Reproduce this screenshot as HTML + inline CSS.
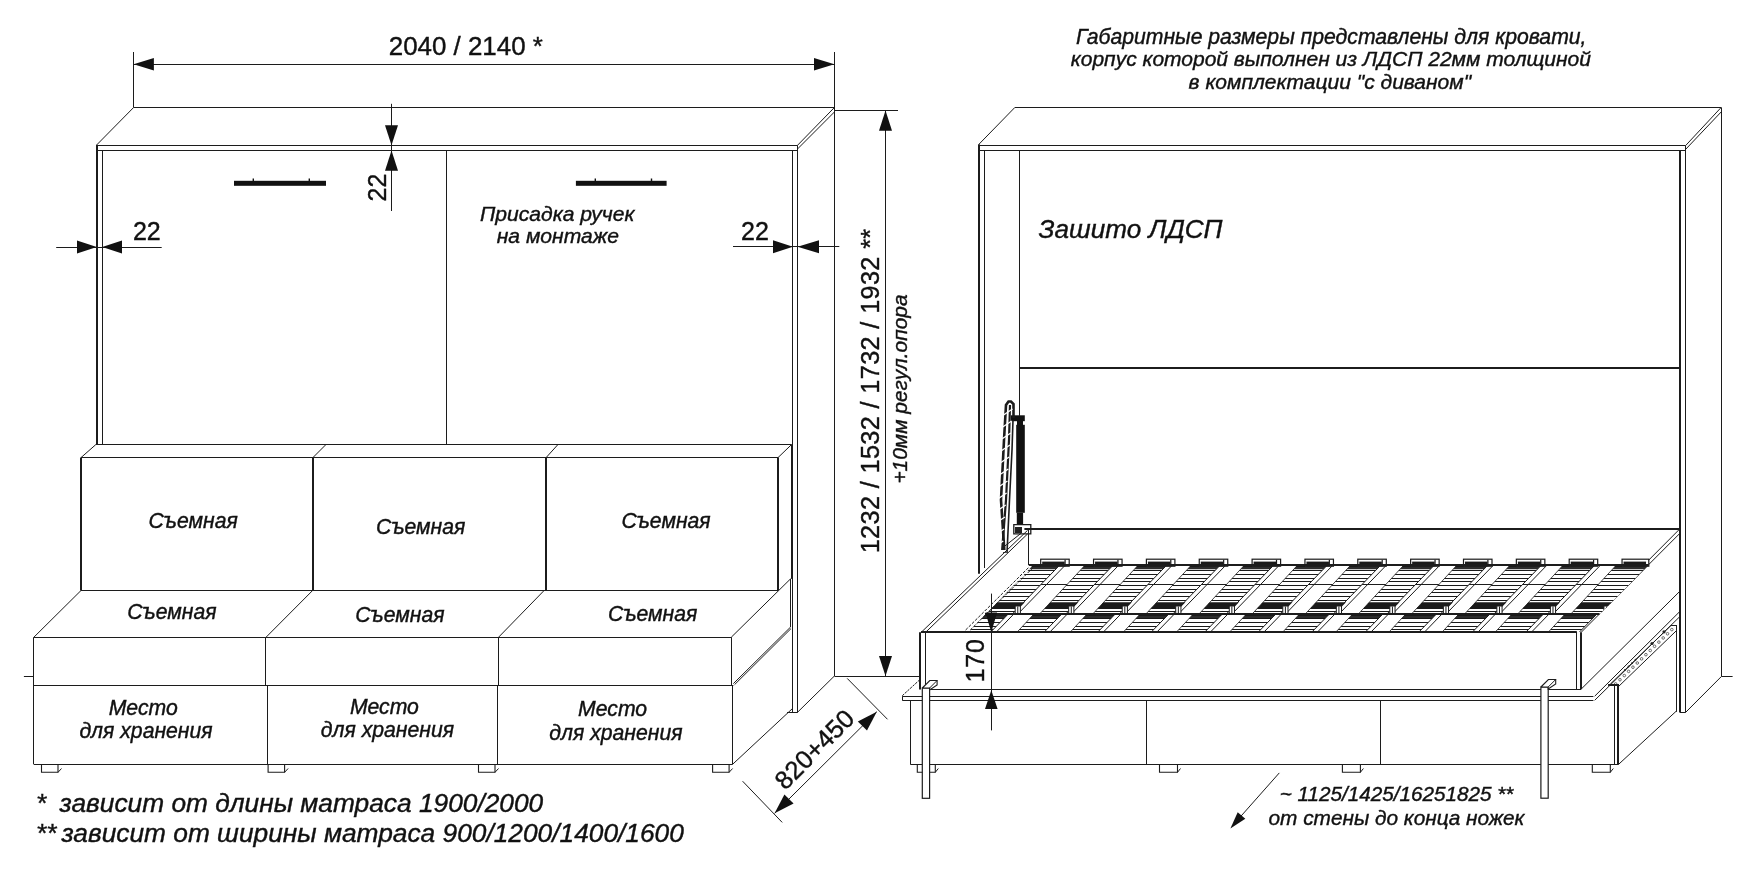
<!DOCTYPE html>
<html><head><meta charset="utf-8"><style>
html,body{margin:0;padding:0;background:#fff;}
svg{display:block;}
text{font-family:"Liberation Sans", sans-serif; fill:#111; stroke:#111; stroke-width:0.4px;}
svg{will-change:transform;}
</style></head><body>
<svg width="1755" height="885" viewBox="0 0 1755 885">
<rect width="1755" height="885" fill="#fff"/>
<line x1="133.50" y1="52.00" x2="133.50" y2="107.50" stroke="#1c1c1c" stroke-width="1" />
<line x1="834.50" y1="52.00" x2="834.50" y2="676.00" stroke="#1c1c1c" stroke-width="1" />
<line x1="133.60" y1="64.50" x2="834.40" y2="64.50" stroke="#1c1c1c" stroke-width="1" />
<polygon points="133.60,64.30 153.90,70.60 153.90,58.00" fill="#111"/>
<polygon points="834.40,64.30 814.00,58.00 814.00,70.60" fill="#111"/>
<text x="388.80" y="55.20" font-size="25.9" text-anchor="start" >2040 / 2140 *</text>
<line x1="133.60" y1="107.50" x2="834.40" y2="107.50" stroke="#1c1c1c" stroke-width="1" />
<line x1="133.60" y1="107.50" x2="96.80" y2="144.80" stroke="#1c1c1c" stroke-width="1.0" />
<line x1="96.80" y1="145.50" x2="797.50" y2="145.50" stroke="#1c1c1c" stroke-width="1" />
<line x1="96.80" y1="150.50" x2="797.50" y2="150.50" stroke="#1c1c1c" stroke-width="1" />
<line x1="97.00" y1="144.80" x2="97.00" y2="444.60" stroke="#1c1c1c" stroke-width="2" />
<line x1="102.50" y1="150.50" x2="102.50" y2="444.60" stroke="#1c1c1c" stroke-width="1" />
<line x1="834.40" y1="107.50" x2="797.50" y2="145.30" stroke="#1c1c1c" stroke-width="1.0" />
<line x1="834.40" y1="112.00" x2="797.50" y2="149.00" stroke="#1c1c1c" stroke-width="1.0" />
<line x1="792.50" y1="150.50" x2="792.50" y2="712.30" stroke="#1c1c1c" stroke-width="1" />
<line x1="797.50" y1="145.30" x2="797.50" y2="712.30" stroke="#1c1c1c" stroke-width="1" />
<line x1="792.90" y1="712.50" x2="797.50" y2="712.50" stroke="#1c1c1c" stroke-width="1" />
<line x1="797.50" y1="712.30" x2="834.40" y2="676.00" stroke="#1c1c1c" stroke-width="1.0" />
<line x1="834.40" y1="676.50" x2="898.00" y2="676.50" stroke="#1c1c1c" stroke-width="1" />
<line x1="834.40" y1="110.50" x2="898.00" y2="110.50" stroke="#1c1c1c" stroke-width="1" />
<line x1="446.50" y1="150.50" x2="446.50" y2="444.60" stroke="#1c1c1c" stroke-width="1" />
<rect x="234.00" y="180.80" width="92.00" height="5.00" fill="#111"/>
<rect x="252.60" y="178.50" width="1.40" height="3.00" fill="#111"/>
<rect x="308.60" y="178.50" width="1.40" height="3.00" fill="#111"/>
<rect x="575.90" y="180.80" width="90.70" height="5.00" fill="#111"/>
<rect x="594.60" y="178.50" width="1.40" height="3.00" fill="#111"/>
<rect x="650.80" y="178.50" width="1.40" height="3.00" fill="#111"/>
<line x1="391.50" y1="103.80" x2="391.50" y2="211.00" stroke="#1c1c1c" stroke-width="1" />
<polygon points="391.50,145.20 398.00,125.20 385.00,125.20" fill="#111"/>
<polygon points="391.50,150.50 385.00,170.70 398.00,170.70" fill="#111"/>
<line x1="383.00" y1="145.50" x2="404.00" y2="145.50" stroke="#1c1c1c" stroke-width="1" />
<line x1="383.00" y1="150.50" x2="404.00" y2="150.50" stroke="#1c1c1c" stroke-width="1" />
<text x="385.50" y="201.50" font-size="25" text-anchor="start" transform="rotate(-90 385.50 201.50)" >22</text>
<line x1="56.20" y1="247.50" x2="161.70" y2="247.50" stroke="#1c1c1c" stroke-width="1" />
<polygon points="96.80,247.10 77.00,240.60 77.00,253.60" fill="#111"/>
<polygon points="102.20,247.10 122.00,253.60 122.00,240.60" fill="#111"/>
<text x="132.90" y="239.60" font-size="25" text-anchor="start" >22</text>
<line x1="733.00" y1="246.50" x2="839.30" y2="246.50" stroke="#1c1c1c" stroke-width="1" />
<polygon points="792.90,246.70 773.00,240.20 773.00,253.20" fill="#111"/>
<polygon points="797.50,246.70 819.00,253.20 819.00,240.20" fill="#111"/>
<text x="741.00" y="239.50" font-size="25" text-anchor="start" >22</text>
<text x="480.00" y="220.90" font-size="21.1" font-style="italic" text-anchor="start" >Присадка ручек</text>
<text x="496.70" y="243.00" font-size="21.1" font-style="italic" text-anchor="start" >на монтаже</text>
<line x1="95.80" y1="444.50" x2="791.50" y2="444.50" stroke="#1c1c1c" stroke-width="1" />
<line x1="81.00" y1="457.50" x2="778.00" y2="457.50" stroke="#1c1c1c" stroke-width="1" />
<line x1="95.80" y1="444.60" x2="81.00" y2="457.60" stroke="#1c1c1c" stroke-width="1.0" />
<line x1="81.00" y1="457.60" x2="81.00" y2="590.50" stroke="#1c1c1c" stroke-width="2" />
<line x1="313.00" y1="457.60" x2="313.00" y2="590.50" stroke="#1c1c1c" stroke-width="2" />
<line x1="312.90" y1="457.60" x2="325.90" y2="444.60" stroke="#1c1c1c" stroke-width="1.0" />
<line x1="546.00" y1="457.60" x2="546.00" y2="590.50" stroke="#1c1c1c" stroke-width="2" />
<line x1="546.10" y1="457.60" x2="557.90" y2="444.60" stroke="#1c1c1c" stroke-width="1.0" />
<line x1="778.00" y1="457.60" x2="778.00" y2="590.50" stroke="#1c1c1c" stroke-width="2" />
<line x1="778.00" y1="457.60" x2="791.50" y2="444.60" stroke="#1c1c1c" stroke-width="1.0" />
<line x1="791.50" y1="444.60" x2="791.50" y2="578.90" stroke="#1c1c1c" stroke-width="1" />
<line x1="81.00" y1="590.50" x2="778.00" y2="590.50" stroke="#1c1c1c" stroke-width="1" />
<line x1="33.90" y1="637.50" x2="731.30" y2="637.50" stroke="#1c1c1c" stroke-width="1" />
<line x1="81.00" y1="590.50" x2="33.90" y2="637.20" stroke="#1c1c1c" stroke-width="1.0" />
<line x1="312.60" y1="590.50" x2="266.10" y2="637.20" stroke="#1c1c1c" stroke-width="1.0" />
<line x1="544.10" y1="590.50" x2="498.60" y2="637.20" stroke="#1c1c1c" stroke-width="1.0" />
<line x1="731.30" y1="637.20" x2="790.50" y2="578.90" stroke="#1c1c1c" stroke-width="1.0" />
<line x1="790.50" y1="578.90" x2="790.50" y2="627.00" stroke="#1c1c1c" stroke-width="1" />
<line x1="733.40" y1="683.60" x2="790.50" y2="627.10" stroke="#1c1c1c" stroke-width="1.0" />
<line x1="734.60" y1="684.60" x2="791.00" y2="628.60" stroke="#1c1c1c" stroke-width="1.0" />
<line x1="33.90" y1="685.50" x2="733.40" y2="685.50" stroke="#1c1c1c" stroke-width="1" />
<line x1="33.50" y1="637.20" x2="33.50" y2="764.30" stroke="#1c1c1c" stroke-width="1" />
<line x1="265.50" y1="637.20" x2="265.50" y2="685.10" stroke="#1c1c1c" stroke-width="1" />
<line x1="498.50" y1="637.20" x2="498.50" y2="685.10" stroke="#1c1c1c" stroke-width="1" />
<line x1="731.50" y1="637.20" x2="731.50" y2="685.10" stroke="#1c1c1c" stroke-width="1" />
<line x1="267.50" y1="685.10" x2="267.50" y2="764.30" stroke="#1c1c1c" stroke-width="1" />
<line x1="497.50" y1="685.10" x2="497.50" y2="764.30" stroke="#1c1c1c" stroke-width="1" />
<line x1="732.50" y1="685.10" x2="732.50" y2="764.30" stroke="#1c1c1c" stroke-width="1" />
<line x1="33.90" y1="764.50" x2="732.60" y2="764.50" stroke="#1c1c1c" stroke-width="1" />
<line x1="732.60" y1="764.30" x2="792.50" y2="708.50" stroke="#1c1c1c" stroke-width="1.0" />
<line x1="787.00" y1="712.50" x2="797.50" y2="712.50" stroke="#1c1c1c" stroke-width="1" />
<line x1="23.90" y1="676.50" x2="33.90" y2="676.50" stroke="#1c1c1c" stroke-width="1" />
<polyline points="41.50,764.30 41.50,772.30 58.00,772.30 58.00,764.30" stroke="#1c1c1c" stroke-width="1.1" fill="none"/>
<line x1="58.00" y1="772.30" x2="61.50" y2="768.50" stroke="#1c1c1c" stroke-width="1.0" />
<polyline points="268.10,764.30 268.10,772.30 284.60,772.30 284.60,764.30" stroke="#1c1c1c" stroke-width="1.1" fill="none"/>
<line x1="284.60" y1="772.30" x2="288.10" y2="768.50" stroke="#1c1c1c" stroke-width="1.0" />
<polyline points="478.50,764.30 478.50,772.30 495.00,772.30 495.00,764.30" stroke="#1c1c1c" stroke-width="1.1" fill="none"/>
<line x1="495.00" y1="772.30" x2="498.50" y2="768.50" stroke="#1c1c1c" stroke-width="1.0" />
<polyline points="712.60,764.30 712.60,772.30 729.10,772.30 729.10,764.30" stroke="#1c1c1c" stroke-width="1.1" fill="none"/>
<line x1="729.10" y1="772.30" x2="732.60" y2="768.50" stroke="#1c1c1c" stroke-width="1.0" />
<line x1="885.50" y1="110.00" x2="885.50" y2="676.00" stroke="#1c1c1c" stroke-width="1" />
<polygon points="885.50,110.50 879.00,130.70 892.00,130.70" fill="#111"/>
<polygon points="885.50,676.00 892.00,656.00 879.00,656.00" fill="#111"/>
<text x="878.60" y="553.30" font-size="25.25" text-anchor="start" transform="rotate(-90 878.60 553.30)" textLength="324.5" lengthAdjust="spacing">1232 / 1532 / 1732 / 1932 **</text>
<text x="906.80" y="483.60" font-size="20.9" font-style="italic" text-anchor="start" transform="rotate(-90 906.80 483.60)" >+10мм регул.опора</text>
<line x1="742.60" y1="781.20" x2="782.20" y2="822.40" stroke="#1c1c1c" stroke-width="1.0" />
<line x1="847.20" y1="678.40" x2="887.50" y2="719.30" stroke="#1c1c1c" stroke-width="1.0" />
<line x1="774.60" y1="813.30" x2="876.80" y2="711.70" stroke="#1c1c1c" stroke-width="1.0" />
<polygon points="774.60,813.30 793.58,803.61 784.42,794.39" fill="#111"/>
<polygon points="876.80,711.70 857.82,721.39 866.98,730.61" fill="#111"/>
<text x="814.30" y="749.20" font-size="25.5" text-anchor="middle" transform="rotate(-45 814.30 749.20)" dominant-baseline="central">820+450</text>
<text x="36.00" y="811.80" font-size="26.3" font-style="italic" text-anchor="start" >*</text>
<text x="59.50" y="811.80" font-size="26.3" font-style="italic" text-anchor="start" >зависит от длины матраса 1900/2000</text>
<text x="36.00" y="842.00" font-size="26.3" font-style="italic" text-anchor="start" >**</text>
<text x="61.40" y="842.00" font-size="26.3" font-style="italic" text-anchor="start" >зависит от ширины матраса 900/1200/1400/1600</text>
<text x="148.50" y="527.80" font-size="21.2" font-style="italic" text-anchor="start" >Съемная</text>
<text x="376.10" y="534.00" font-size="21.2" font-style="italic" text-anchor="start" >Съемная</text>
<text x="621.40" y="527.80" font-size="21.2" font-style="italic" text-anchor="start" >Съемная</text>
<text x="127.20" y="619.30" font-size="21.2" font-style="italic" text-anchor="start" >Съемная</text>
<text x="355.20" y="621.50" font-size="21.2" font-style="italic" text-anchor="start" >Съемная</text>
<text x="608.10" y="620.50" font-size="21.2" font-style="italic" text-anchor="start" >Съемная</text>
<text x="108.70" y="715.00" font-size="21.2" font-style="italic" text-anchor="start" >Место</text>
<text x="79.40" y="738.00" font-size="21.2" font-style="italic" text-anchor="start" >для хранения</text>
<text x="349.90" y="713.90" font-size="21.2" font-style="italic" text-anchor="start" >Место</text>
<text x="320.80" y="737.00" font-size="21.2" font-style="italic" text-anchor="start" >для хранения</text>
<text x="578.10" y="716.30" font-size="21.2" font-style="italic" text-anchor="start" >Место</text>
<text x="549.30" y="740.00" font-size="21.2" font-style="italic" text-anchor="start" >для хранения</text>
<text x="1075.90" y="44.20" font-size="21.2" font-style="italic" text-anchor="start" >Габаритные размеры представлены для кровати,</text>
<text x="1070.80" y="65.80" font-size="21" font-style="italic" text-anchor="start" >корпус которой выполнен из ЛДСП 22мм толщиной</text>
<text x="1188.60" y="88.80" font-size="21" font-style="italic" text-anchor="start" >в комплектации &quot;с диваном&quot;</text>
<line x1="1014.80" y1="107.50" x2="1721.10" y2="107.50" stroke="#1c1c1c" stroke-width="1" />
<line x1="1014.80" y1="107.50" x2="979.00" y2="144.20" stroke="#1c1c1c" stroke-width="1.0" />
<line x1="979.00" y1="145.50" x2="1685.50" y2="145.50" stroke="#1c1c1c" stroke-width="1" />
<line x1="979.00" y1="150.50" x2="1685.50" y2="150.50" stroke="#1c1c1c" stroke-width="1" />
<line x1="979.00" y1="144.20" x2="979.00" y2="573.80" stroke="#1c1c1c" stroke-width="2" />
<line x1="984.50" y1="150.20" x2="984.50" y2="568.00" stroke="#1c1c1c" stroke-width="1" />
<line x1="1721.10" y1="107.50" x2="1685.50" y2="145.70" stroke="#1c1c1c" stroke-width="1.0" />
<line x1="1721.10" y1="112.00" x2="1685.50" y2="149.50" stroke="#1c1c1c" stroke-width="1.0" />
<line x1="1680.00" y1="150.20" x2="1680.00" y2="712.50" stroke="#1c1c1c" stroke-width="2" />
<line x1="1685.50" y1="145.70" x2="1685.50" y2="712.50" stroke="#1c1c1c" stroke-width="1" />
<line x1="1680.00" y1="712.50" x2="1685.50" y2="712.50" stroke="#1c1c1c" stroke-width="1" />
<line x1="1685.50" y1="712.50" x2="1721.40" y2="676.50" stroke="#1c1c1c" stroke-width="1.0" />
<line x1="1721.50" y1="107.50" x2="1721.50" y2="676.50" stroke="#1c1c1c" stroke-width="1" />
<line x1="1721.40" y1="676.50" x2="1732.60" y2="676.50" stroke="#1c1c1c" stroke-width="1" />
<line x1="1019.50" y1="150.20" x2="1019.50" y2="415.80" stroke="#1c1c1c" stroke-width="1" />
<line x1="1019.60" y1="368.00" x2="1680.00" y2="368.00" stroke="#1c1c1c" stroke-width="2" />
<text x="1038.60" y="237.90" font-size="26.1" font-style="italic" text-anchor="start" >Зашито ЛДСП</text>
<rect x="1016.20" y="424.80" width="8.60" height="88.00" fill="#111"/>
<rect x="1010.80" y="415.30" width="14.00" height="5.90" fill="#111"/>
<rect x="1017.00" y="421.00" width="6.00" height="4.00" fill="#111"/>
<rect x="1016.80" y="512.70" width="6.30" height="12.00" fill="#111"/>
<polygon points="1013.80,524.60 1030.80,524.60 1030.80,533.90 1013.80,533.90" stroke="#1c1c1c" stroke-width="1.3" fill="#fff"/>
<rect x="1015.00" y="527.00" width="7.00" height="6.00" fill="#222"/>
<polyline points="1004.50,553.00 1001.00,500.00 1004.00,440.00 1006.00,405.00 1008.50,401.50 1011.00,401.50 1013.50,404.00 1013.50,418.00" stroke="#1c1c1c" stroke-width="2.6" fill="none"/>
<polyline points="1002.00,552.00 1006.00,500.00 1009.00,440.00 1010.00,405.00" stroke="#1c1c1c" stroke-width="2.2" fill="none"/>
<polyline points="1007.00,553.00 1009.50,500.00 1012.00,450.00 1013.00,420.00" stroke="#1c1c1c" stroke-width="1.6" fill="none"/>
<line x1="1003.50" y1="415.00" x2="1012.50" y2="409.00" stroke="#fff" stroke-width="1.3"/>
<line x1="1002.66" y1="427.00" x2="1011.66" y2="421.00" stroke="#fff" stroke-width="1.3"/>
<line x1="1001.82" y1="439.00" x2="1010.82" y2="433.00" stroke="#fff" stroke-width="1.3"/>
<line x1="1000.98" y1="451.00" x2="1009.98" y2="445.00" stroke="#fff" stroke-width="1.3"/>
<line x1="1000.14" y1="463.00" x2="1009.14" y2="457.00" stroke="#fff" stroke-width="1.3"/>
<line x1="999.30" y1="475.00" x2="1008.30" y2="469.00" stroke="#fff" stroke-width="1.3"/>
<line x1="998.46" y1="487.00" x2="1007.46" y2="481.00" stroke="#fff" stroke-width="1.3"/>
<line x1="997.62" y1="499.00" x2="1006.62" y2="493.00" stroke="#fff" stroke-width="1.3"/>
<line x1="996.78" y1="511.00" x2="1005.78" y2="505.00" stroke="#fff" stroke-width="1.3"/>
<line x1="995.94" y1="523.00" x2="1004.94" y2="517.00" stroke="#fff" stroke-width="1.3"/>
<line x1="995.10" y1="535.00" x2="1004.10" y2="529.00" stroke="#fff" stroke-width="1.3"/>
<line x1="994.26" y1="547.00" x2="1003.26" y2="541.00" stroke="#fff" stroke-width="1.3"/>
<line x1="1002.00" y1="548.30" x2="1021.40" y2="533.00" stroke="#1c1c1c" stroke-width="1.0" />
<line x1="999.50" y1="551.00" x2="1006.00" y2="551.00" stroke="#fff" stroke-width="2" />
<line x1="1024.40" y1="529.00" x2="1679.20" y2="529.00" stroke="#1c1c1c" stroke-width="2" />
<line x1="1028.50" y1="529.30" x2="1028.50" y2="565.00" stroke="#1c1c1c" stroke-width="1" />
<line x1="1027.50" y1="530.40" x2="921.00" y2="632.50" stroke="#1c1c1c" stroke-width="1.0" />
<line x1="1027.50" y1="534.00" x2="925.40" y2="632.50" stroke="#1c1c1c" stroke-width="1.0" />
<line x1="1679.20" y1="529.50" x2="1576.80" y2="632.30" stroke="#1c1c1c" stroke-width="1.0" />
<line x1="1679.20" y1="534.00" x2="1581.20" y2="632.30" stroke="#1c1c1c" stroke-width="1.0" />
<line x1="921.00" y1="632.00" x2="1576.80" y2="632.00" stroke="#1c1c1c" stroke-width="2" />
<line x1="920.00" y1="632.30" x2="920.00" y2="689.40" stroke="#1c1c1c" stroke-width="2" />
<line x1="925.50" y1="632.30" x2="925.50" y2="689.40" stroke="#1c1c1c" stroke-width="1" />
<line x1="1576.50" y1="632.30" x2="1576.50" y2="689.10" stroke="#1c1c1c" stroke-width="1" />
<line x1="1581.00" y1="632.30" x2="1581.00" y2="689.10" stroke="#1c1c1c" stroke-width="2" />
<line x1="1581.20" y1="689.10" x2="1679.40" y2="591.70" stroke="#1c1c1c" stroke-width="1.0" />
<line x1="925.30" y1="689.50" x2="1581.20" y2="689.50" stroke="#1c1c1c" stroke-width="1" />
<line x1="902.30" y1="696.50" x2="1593.40" y2="696.50" stroke="#1c1c1c" stroke-width="1" />
<line x1="902.30" y1="700.50" x2="1593.40" y2="700.50" stroke="#1c1c1c" stroke-width="1" />
<line x1="902.50" y1="696.40" x2="902.50" y2="700.40" stroke="#1c1c1c" stroke-width="1" />
<line x1="902.30" y1="695.70" x2="919.80" y2="679.70" stroke="#1c1c1c" stroke-width="1.0" stroke-dasharray="2.5,1"/>
<line x1="1594.70" y1="696.20" x2="1679.30" y2="612.00" stroke="#1c1c1c" stroke-width="1.0" />
<line x1="1594.70" y1="700.30" x2="1679.30" y2="617.10" stroke="#1c1c1c" stroke-width="1.0" />
<line x1="1610.20" y1="684.20" x2="1671.20" y2="625.30" stroke="#1c1c1c" stroke-width="1.0" />
<line x1="1617.50" y1="687.50" x2="1676.90" y2="630.20" stroke="#1c1c1c" stroke-width="1.0" />
<circle cx="1615.66" cy="683.91" r="1.3" fill="none" stroke="#333" stroke-width="0.7"/>
<circle cx="1619.98" cy="679.73" r="1.3" fill="none" stroke="#333" stroke-width="0.7"/>
<circle cx="1624.30" cy="675.55" r="1.3" fill="none" stroke="#333" stroke-width="0.7"/>
<circle cx="1628.62" cy="671.38" r="1.3" fill="none" stroke="#333" stroke-width="0.7"/>
<circle cx="1632.95" cy="667.20" r="1.3" fill="none" stroke="#333" stroke-width="0.7"/>
<circle cx="1637.27" cy="663.02" r="1.3" fill="none" stroke="#333" stroke-width="0.7"/>
<circle cx="1641.59" cy="658.84" r="1.3" fill="none" stroke="#333" stroke-width="0.7"/>
<circle cx="1645.91" cy="654.66" r="1.3" fill="none" stroke="#333" stroke-width="0.7"/>
<circle cx="1650.23" cy="650.48" r="1.3" fill="none" stroke="#333" stroke-width="0.7"/>
<circle cx="1654.55" cy="646.30" r="1.3" fill="none" stroke="#333" stroke-width="0.7"/>
<circle cx="1658.88" cy="642.12" r="1.3" fill="none" stroke="#333" stroke-width="0.7"/>
<circle cx="1663.20" cy="637.95" r="1.3" fill="none" stroke="#333" stroke-width="0.7"/>
<circle cx="1667.52" cy="633.77" r="1.3" fill="none" stroke="#333" stroke-width="0.7"/>
<circle cx="1671.84" cy="629.59" r="1.3" fill="none" stroke="#333" stroke-width="0.7"/>
<circle cx="1652" cy="643.5" r="1.6" fill="#222"/><circle cx="1664" cy="631.8" r="1.6" fill="#222"/>
<circle cx="1625.00" cy="669.90" r="0.9" fill="#222"/>
<circle cx="1628.50" cy="666.52" r="0.9" fill="#222"/>
<circle cx="1632.00" cy="663.15" r="0.9" fill="#222"/>
<circle cx="1635.50" cy="659.77" r="0.9" fill="#222"/>
<line x1="895.00" y1="676.50" x2="919.80" y2="676.50" stroke="#1c1c1c" stroke-width="1" />
<line x1="910.50" y1="700.40" x2="910.50" y2="764.60" stroke="#1c1c1c" stroke-width="1" />
<line x1="910.50" y1="764.50" x2="1618.30" y2="764.50" stroke="#1c1c1c" stroke-width="1" />
<line x1="1146.50" y1="700.40" x2="1146.50" y2="764.60" stroke="#1c1c1c" stroke-width="1" />
<line x1="1380.50" y1="700.40" x2="1380.50" y2="764.60" stroke="#1c1c1c" stroke-width="1" />
<line x1="1614.50" y1="684.00" x2="1614.50" y2="764.60" stroke="#1c1c1c" stroke-width="1" />
<line x1="1618.00" y1="684.00" x2="1618.00" y2="764.60" stroke="#1c1c1c" stroke-width="2" />
<line x1="1608.10" y1="685.00" x2="1618.30" y2="685.00" stroke="#1c1c1c" stroke-width="2" />
<line x1="1618.30" y1="764.60" x2="1676.20" y2="711.20" stroke="#1c1c1c" stroke-width="1.0" />
<line x1="1676.50" y1="625.20" x2="1676.50" y2="711.90" stroke="#1c1c1c" stroke-width="1" />
<line x1="1671.00" y1="625.50" x2="1676.90" y2="625.50" stroke="#1c1c1c" stroke-width="1" />
<polyline points="917.30,764.60 917.30,772.30 935.30,772.30 935.30,764.60" stroke="#1c1c1c" stroke-width="1.1" fill="none"/>
<line x1="935.30" y1="772.30" x2="938.30" y2="768.50" stroke="#1c1c1c" stroke-width="1.0" />
<polyline points="1159.50,764.60 1159.50,772.30 1177.50,772.30 1177.50,764.60" stroke="#1c1c1c" stroke-width="1.1" fill="none"/>
<line x1="1177.50" y1="772.30" x2="1180.50" y2="768.50" stroke="#1c1c1c" stroke-width="1.0" />
<polyline points="1342.40,764.60 1342.40,772.30 1360.40,772.30 1360.40,764.60" stroke="#1c1c1c" stroke-width="1.1" fill="none"/>
<line x1="1360.40" y1="772.30" x2="1363.40" y2="768.50" stroke="#1c1c1c" stroke-width="1.0" />
<polyline points="1592.30,764.60 1592.30,772.30 1610.30,772.30 1610.30,764.60" stroke="#1c1c1c" stroke-width="1.1" fill="none"/>
<line x1="1610.30" y1="772.30" x2="1613.30" y2="768.50" stroke="#1c1c1c" stroke-width="1.0" />
<rect x="922.30" y="688.00" width="7.3" height="110.30" fill="#fff" stroke="#1c1c1c" stroke-width="1.2"/>
<polyline points="922.30,688.00 929.80,680.50 937.10,680.50 937.10,685.00 929.60,690.00 929.60,688.00 922.30,688.00" stroke="#1c1c1c" stroke-width="1.1" fill="#fff"/>
<line x1="929.60" y1="688.00" x2="937.10" y2="680.50" stroke="#1c1c1c" stroke-width="1.0" />
<rect x="1540.90" y="687.00" width="7.3" height="111.20" fill="#fff" stroke="#1c1c1c" stroke-width="1.2"/>
<polyline points="1540.90,687.00 1548.40,679.50 1555.70,679.50 1555.70,684.00 1548.20,689.00 1548.20,687.00 1540.90,687.00" stroke="#1c1c1c" stroke-width="1.1" fill="#fff"/>
<line x1="1548.20" y1="687.00" x2="1555.70" y2="679.50" stroke="#1c1c1c" stroke-width="1.0" />
<text x="983.70" y="682.50" font-size="25" text-anchor="start" transform="rotate(-90 983.70 682.50)" textLength="43.5" lengthAdjust="spacing">170</text>
<line x1="1279.30" y1="772.90" x2="1238.00" y2="819.50" stroke="#1c1c1c" stroke-width="1.0" />
<polygon points="1230.40,828.50 1245.30,818.75 1237.70,812.25" fill="#111"/>
<text x="1279.70" y="801.10" font-size="20.7" font-style="italic" text-anchor="start" >~ 1125/1425/16251825 **</text>
<text x="1268.50" y="825.10" font-size="20.8" font-style="italic" text-anchor="start" >от стены до конца ножек</text>
<defs><pattern id="stripes" patternUnits="userSpaceOnUse" width="10" height="3.75" y="0.6"><rect width="10" height="3.75" fill="#fff"/><rect y="0" width="10" height="1.25" fill="#1a1a1a"/></pattern><clipPath id="slatclip"><polygon points="968.3,632.3 1033,565.3 1648.7,565.3 1581.7,632.3"/></clipPath></defs>
<line x1="1028.80" y1="584.50" x2="1629.40" y2="584.50" stroke="#1c1c1c" stroke-width="1" />
<clipPath id="stripeclip"><polygon points="925.37,565.5 952.29,565.5 904.28,615 879.34,615"/><polygon points="926.77,615 953.75,615 937.26,632 910.96,632"/><polygon points="978.49,565.5 1005.81,565.5 957.80,615 932.46,615"/><polygon points="979.89,615 1007.27,615 990.78,632 964.08,632"/><polygon points="1031.62,565.5 1059.34,565.5 1011.32,615 985.58,615"/><polygon points="1033.01,615 1060.79,615 1044.30,632 1017.20,632"/><polygon points="1084.74,565.5 1112.86,565.5 1064.84,615 1038.70,615"/><polygon points="1086.13,615 1114.31,615 1097.82,632 1070.32,632"/><polygon points="1137.86,565.5 1166.38,565.5 1118.36,615 1091.82,615"/><polygon points="1139.25,615 1167.83,615 1151.34,632 1123.44,632"/><polygon points="1190.98,565.5 1219.90,565.5 1171.88,615 1144.94,615"/><polygon points="1192.37,615 1221.35,615 1204.86,632 1176.56,632"/><polygon points="1244.10,565.5 1273.42,565.5 1225.41,615 1198.07,615"/><polygon points="1245.50,615 1274.88,615 1258.39,632 1229.69,632"/><polygon points="1297.22,565.5 1326.94,565.5 1278.93,615 1251.19,615"/><polygon points="1298.62,615 1328.40,615 1311.91,632 1282.81,632"/><polygon points="1350.34,565.5 1380.46,565.5 1332.45,615 1304.31,615"/><polygon points="1351.74,615 1381.92,615 1365.43,632 1335.93,632"/><polygon points="1403.46,565.5 1433.98,565.5 1385.97,615 1357.43,615"/><polygon points="1404.86,615 1435.44,615 1418.95,632 1389.05,632"/><polygon points="1456.59,565.5 1487.51,565.5 1439.49,615 1410.55,615"/><polygon points="1457.98,615 1488.96,615 1472.47,632 1442.17,632"/><polygon points="1509.71,565.5 1541.03,565.5 1493.01,615 1463.67,615"/><polygon points="1511.10,615 1542.48,615 1525.99,632 1495.29,632"/><polygon points="1562.83,565.5 1594.55,565.5 1546.53,615 1516.79,615"/><polygon points="1564.22,615 1596.00,615 1579.51,632 1548.41,632"/><polygon points="1615.95,565.5 1648.07,565.5 1600.05,615 1569.92,615"/><polygon points="1617.35,615 1649.52,615 1633.03,632 1601.54,632"/><polygon points="1669.07,565.5 1701.59,565.5 1653.58,615 1623.04,615"/><polygon points="1670.47,615 1703.05,615 1686.56,632 1654.66,632"/></clipPath>
<g clip-path="url(#slatclip)"><polygon points="925.37,565.5 952.29,565.5 904.28,615 879.34,615" fill="#fff"/><polygon points="926.77,615 953.75,615 937.26,632 910.96,632" fill="#fff"/><polygon points="978.49,565.5 1005.81,565.5 957.80,615 932.46,615" fill="#fff"/><polygon points="979.89,615 1007.27,615 990.78,632 964.08,632" fill="#fff"/><polygon points="1031.62,565.5 1059.34,565.5 1011.32,615 985.58,615" fill="#fff"/><polygon points="1033.01,615 1060.79,615 1044.30,632 1017.20,632" fill="#fff"/><polygon points="1084.74,565.5 1112.86,565.5 1064.84,615 1038.70,615" fill="#fff"/><polygon points="1086.13,615 1114.31,615 1097.82,632 1070.32,632" fill="#fff"/><polygon points="1137.86,565.5 1166.38,565.5 1118.36,615 1091.82,615" fill="#fff"/><polygon points="1139.25,615 1167.83,615 1151.34,632 1123.44,632" fill="#fff"/><polygon points="1190.98,565.5 1219.90,565.5 1171.88,615 1144.94,615" fill="#fff"/><polygon points="1192.37,615 1221.35,615 1204.86,632 1176.56,632" fill="#fff"/><polygon points="1244.10,565.5 1273.42,565.5 1225.41,615 1198.07,615" fill="#fff"/><polygon points="1245.50,615 1274.88,615 1258.39,632 1229.69,632" fill="#fff"/><polygon points="1297.22,565.5 1326.94,565.5 1278.93,615 1251.19,615" fill="#fff"/><polygon points="1298.62,615 1328.40,615 1311.91,632 1282.81,632" fill="#fff"/><polygon points="1350.34,565.5 1380.46,565.5 1332.45,615 1304.31,615" fill="#fff"/><polygon points="1351.74,615 1381.92,615 1365.43,632 1335.93,632" fill="#fff"/><polygon points="1403.46,565.5 1433.98,565.5 1385.97,615 1357.43,615" fill="#fff"/><polygon points="1404.86,615 1435.44,615 1418.95,632 1389.05,632" fill="#fff"/><polygon points="1456.59,565.5 1487.51,565.5 1439.49,615 1410.55,615" fill="#fff"/><polygon points="1457.98,615 1488.96,615 1472.47,632 1442.17,632" fill="#fff"/><polygon points="1509.71,565.5 1541.03,565.5 1493.01,615 1463.67,615" fill="#fff"/><polygon points="1511.10,615 1542.48,615 1525.99,632 1495.29,632" fill="#fff"/><polygon points="1562.83,565.5 1594.55,565.5 1546.53,615 1516.79,615" fill="#fff"/><polygon points="1564.22,615 1596.00,615 1579.51,632 1548.41,632" fill="#fff"/><polygon points="1615.95,565.5 1648.07,565.5 1600.05,615 1569.92,615" fill="#fff"/><polygon points="1617.35,615 1649.52,615 1633.03,632 1601.54,632" fill="#fff"/><polygon points="1669.07,565.5 1701.59,565.5 1653.58,615 1623.04,615" fill="#fff"/><polygon points="1670.47,615 1703.05,615 1686.56,632 1654.66,632" fill="#fff"/><g clip-path="url(#stripeclip)" shape-rendering="crispEdges"><rect x="960" y="566" width="700" height="1" fill="#1a1a1a"/><rect x="960" y="570" width="700" height="1" fill="#1a1a1a"/><rect x="960" y="574" width="700" height="1" fill="#1a1a1a"/><rect x="960" y="578" width="700" height="1" fill="#1a1a1a"/><rect x="960" y="581" width="700" height="1" fill="#1a1a1a"/><rect x="960" y="585" width="700" height="1" fill="#1a1a1a"/><rect x="960" y="589" width="700" height="1" fill="#1a1a1a"/><rect x="960" y="592" width="700" height="1" fill="#1a1a1a"/><rect x="960" y="596" width="700" height="1" fill="#1a1a1a"/><rect x="960" y="600" width="700" height="1" fill="#1a1a1a"/><rect x="960" y="603" width="700" height="1" fill="#1a1a1a"/><rect x="960" y="607" width="700" height="1" fill="#1a1a1a"/><rect x="960" y="611" width="700" height="1" fill="#1a1a1a"/><rect x="960" y="615" width="700" height="1" fill="#1a1a1a"/><rect x="960" y="618" width="700" height="1" fill="#1a1a1a"/><rect x="960" y="622" width="700" height="1" fill="#1a1a1a"/><rect x="960" y="626" width="700" height="1" fill="#1a1a1a"/><rect x="960" y="629" width="700" height="1" fill="#1a1a1a"/><rect x="960" y="633" width="700" height="1" fill="#1a1a1a"/></g><line x1="925.37" y1="565.5" x2="879.34" y2="615" stroke="#1a1a1a" stroke-width="0.8"/><line x1="952.29" y1="565.5" x2="904.28" y2="615" stroke="#1a1a1a" stroke-width="1.0"/><line x1="957.89" y1="565.5" x2="909.88" y2="615" stroke="#1a1a1a" stroke-width="1.0"/><polygon points="925.37,565.5 952.29,565.5 948.61,569.3 921.84,569.3" fill="#1a1a1a" opacity="0.92"/><line x1="926.77" y1="615" x2="910.96" y2="632" stroke="#1a1a1a" stroke-width="0.8"/><line x1="953.75" y1="615" x2="937.26" y2="632" stroke="#1a1a1a" stroke-width="1.0"/><line x1="959.35" y1="615" x2="942.86" y2="632" stroke="#1a1a1a" stroke-width="1.0"/><polygon points="926.77,615 953.75,615 950.06,618.8 923.23,618.8" fill="#1a1a1a" opacity="0.92"/><polygon points="891.15,602.3 917.80,602.3 911.30,609 884.92,609" fill="#1a1a1a"/><rect x="908.13" y="606" width="5.2" height="8.5" fill="#fff" stroke="#1a1a1a" stroke-width="1.0"/><rect x="910.23" y="606.5" width="1" height="7.5" fill="#1a1a1a"/><line x1="978.49" y1="565.5" x2="932.46" y2="615" stroke="#1a1a1a" stroke-width="0.8"/><line x1="1005.81" y1="565.5" x2="957.80" y2="615" stroke="#1a1a1a" stroke-width="1.0"/><line x1="1011.41" y1="565.5" x2="963.40" y2="615" stroke="#1a1a1a" stroke-width="1.0"/><polygon points="978.49,565.5 1005.81,565.5 1002.13,569.3 974.96,569.3" fill="#1a1a1a" opacity="0.92"/><line x1="979.89" y1="615" x2="964.08" y2="632" stroke="#1a1a1a" stroke-width="0.8"/><line x1="1007.27" y1="615" x2="990.78" y2="632" stroke="#1a1a1a" stroke-width="1.0"/><line x1="1012.87" y1="615" x2="996.38" y2="632" stroke="#1a1a1a" stroke-width="1.0"/><polygon points="979.89,615 1007.27,615 1003.58,618.8 976.35,618.8" fill="#1a1a1a" opacity="0.92"/><polygon points="944.27,602.3 971.32,602.3 964.82,609 938.04,609" fill="#1a1a1a"/><rect x="961.65" y="606" width="5.2" height="8.5" fill="#fff" stroke="#1a1a1a" stroke-width="1.0"/><rect x="963.75" y="606.5" width="1" height="7.5" fill="#1a1a1a"/><line x1="1031.62" y1="565.5" x2="985.58" y2="615" stroke="#1a1a1a" stroke-width="0.8"/><line x1="1059.34" y1="565.5" x2="1011.32" y2="615" stroke="#1a1a1a" stroke-width="1.0"/><line x1="1064.93" y1="565.5" x2="1016.92" y2="615" stroke="#1a1a1a" stroke-width="1.0"/><polygon points="1031.62,565.5 1059.34,565.5 1055.65,569.3 1028.08,569.3" fill="#1a1a1a" opacity="0.92"/><line x1="1033.01" y1="615" x2="1017.20" y2="632" stroke="#1a1a1a" stroke-width="0.8"/><line x1="1060.79" y1="615" x2="1044.30" y2="632" stroke="#1a1a1a" stroke-width="1.0"/><line x1="1066.39" y1="615" x2="1049.90" y2="632" stroke="#1a1a1a" stroke-width="1.0"/><polygon points="1033.01,615 1060.79,615 1057.10,618.8 1029.48,618.8" fill="#1a1a1a" opacity="0.92"/><polygon points="997.39,602.3 1024.84,602.3 1018.34,609 991.16,609" fill="#1a1a1a"/><rect x="1015.17" y="606" width="5.2" height="8.5" fill="#fff" stroke="#1a1a1a" stroke-width="1.0"/><rect x="1017.27" y="606.5" width="1" height="7.5" fill="#1a1a1a"/><line x1="1084.74" y1="565.5" x2="1038.70" y2="615" stroke="#1a1a1a" stroke-width="0.8"/><line x1="1112.86" y1="565.5" x2="1064.84" y2="615" stroke="#1a1a1a" stroke-width="1.0"/><line x1="1118.46" y1="565.5" x2="1070.44" y2="615" stroke="#1a1a1a" stroke-width="1.0"/><polygon points="1084.74,565.5 1112.86,565.5 1109.17,569.3 1081.20,569.3" fill="#1a1a1a" opacity="0.92"/><line x1="1086.13" y1="615" x2="1070.32" y2="632" stroke="#1a1a1a" stroke-width="0.8"/><line x1="1114.31" y1="615" x2="1097.82" y2="632" stroke="#1a1a1a" stroke-width="1.0"/><line x1="1119.91" y1="615" x2="1103.42" y2="632" stroke="#1a1a1a" stroke-width="1.0"/><polygon points="1086.13,615 1114.31,615 1110.63,618.8 1082.60,618.8" fill="#1a1a1a" opacity="0.92"/><polygon points="1050.51,602.3 1078.36,602.3 1071.86,609 1044.28,609" fill="#1a1a1a"/><rect x="1068.69" y="606" width="5.2" height="8.5" fill="#fff" stroke="#1a1a1a" stroke-width="1.0"/><rect x="1070.79" y="606.5" width="1" height="7.5" fill="#1a1a1a"/><line x1="1137.86" y1="565.5" x2="1091.82" y2="615" stroke="#1a1a1a" stroke-width="0.8"/><line x1="1166.38" y1="565.5" x2="1118.36" y2="615" stroke="#1a1a1a" stroke-width="1.0"/><line x1="1171.98" y1="565.5" x2="1123.96" y2="615" stroke="#1a1a1a" stroke-width="1.0"/><polygon points="1137.86,565.5 1166.38,565.5 1162.69,569.3 1134.32,569.3" fill="#1a1a1a" opacity="0.92"/><line x1="1139.25" y1="615" x2="1123.44" y2="632" stroke="#1a1a1a" stroke-width="0.8"/><line x1="1167.83" y1="615" x2="1151.34" y2="632" stroke="#1a1a1a" stroke-width="1.0"/><line x1="1173.43" y1="615" x2="1156.94" y2="632" stroke="#1a1a1a" stroke-width="1.0"/><polygon points="1139.25,615 1167.83,615 1164.15,618.8 1135.72,618.8" fill="#1a1a1a" opacity="0.92"/><polygon points="1103.63,602.3 1131.88,602.3 1125.38,609 1097.40,609" fill="#1a1a1a"/><rect x="1122.21" y="606" width="5.2" height="8.5" fill="#fff" stroke="#1a1a1a" stroke-width="1.0"/><rect x="1124.31" y="606.5" width="1" height="7.5" fill="#1a1a1a"/><line x1="1190.98" y1="565.5" x2="1144.94" y2="615" stroke="#1a1a1a" stroke-width="0.8"/><line x1="1219.90" y1="565.5" x2="1171.88" y2="615" stroke="#1a1a1a" stroke-width="1.0"/><line x1="1225.50" y1="565.5" x2="1177.48" y2="615" stroke="#1a1a1a" stroke-width="1.0"/><polygon points="1190.98,565.5 1219.90,565.5 1216.21,569.3 1187.45,569.3" fill="#1a1a1a" opacity="0.92"/><line x1="1192.37" y1="615" x2="1176.56" y2="632" stroke="#1a1a1a" stroke-width="0.8"/><line x1="1221.35" y1="615" x2="1204.86" y2="632" stroke="#1a1a1a" stroke-width="1.0"/><line x1="1226.95" y1="615" x2="1210.46" y2="632" stroke="#1a1a1a" stroke-width="1.0"/><polygon points="1192.37,615 1221.35,615 1217.67,618.8 1188.84,618.8" fill="#1a1a1a" opacity="0.92"/><polygon points="1156.76,602.3 1185.40,602.3 1178.90,609 1150.52,609" fill="#1a1a1a"/><rect x="1175.73" y="606" width="5.2" height="8.5" fill="#fff" stroke="#1a1a1a" stroke-width="1.0"/><rect x="1177.83" y="606.5" width="1" height="7.5" fill="#1a1a1a"/><line x1="1244.10" y1="565.5" x2="1198.07" y2="615" stroke="#1a1a1a" stroke-width="0.8"/><line x1="1273.42" y1="565.5" x2="1225.41" y2="615" stroke="#1a1a1a" stroke-width="1.0"/><line x1="1279.02" y1="565.5" x2="1231.01" y2="615" stroke="#1a1a1a" stroke-width="1.0"/><polygon points="1244.10,565.5 1273.42,565.5 1269.73,569.3 1240.57,569.3" fill="#1a1a1a" opacity="0.92"/><line x1="1245.50" y1="615" x2="1229.69" y2="632" stroke="#1a1a1a" stroke-width="0.8"/><line x1="1274.88" y1="615" x2="1258.39" y2="632" stroke="#1a1a1a" stroke-width="1.0"/><line x1="1280.48" y1="615" x2="1263.99" y2="632" stroke="#1a1a1a" stroke-width="1.0"/><polygon points="1245.50,615 1274.88,615 1271.19,618.8 1241.96,618.8" fill="#1a1a1a" opacity="0.92"/><polygon points="1209.88,602.3 1238.92,602.3 1232.43,609 1203.65,609" fill="#1a1a1a"/><rect x="1229.26" y="606" width="5.2" height="8.5" fill="#fff" stroke="#1a1a1a" stroke-width="1.0"/><rect x="1231.36" y="606.5" width="1" height="7.5" fill="#1a1a1a"/><line x1="1297.22" y1="565.5" x2="1251.19" y2="615" stroke="#1a1a1a" stroke-width="0.8"/><line x1="1326.94" y1="565.5" x2="1278.93" y2="615" stroke="#1a1a1a" stroke-width="1.0"/><line x1="1332.54" y1="565.5" x2="1284.53" y2="615" stroke="#1a1a1a" stroke-width="1.0"/><polygon points="1297.22,565.5 1326.94,565.5 1323.26,569.3 1293.69,569.3" fill="#1a1a1a" opacity="0.92"/><line x1="1298.62" y1="615" x2="1282.81" y2="632" stroke="#1a1a1a" stroke-width="0.8"/><line x1="1328.40" y1="615" x2="1311.91" y2="632" stroke="#1a1a1a" stroke-width="1.0"/><line x1="1334.00" y1="615" x2="1317.51" y2="632" stroke="#1a1a1a" stroke-width="1.0"/><polygon points="1298.62,615 1328.40,615 1324.71,618.8 1295.08,618.8" fill="#1a1a1a" opacity="0.92"/><polygon points="1263.00,602.3 1292.45,602.3 1285.95,609 1256.77,609" fill="#1a1a1a"/><rect x="1282.78" y="606" width="5.2" height="8.5" fill="#fff" stroke="#1a1a1a" stroke-width="1.0"/><rect x="1284.88" y="606.5" width="1" height="7.5" fill="#1a1a1a"/><line x1="1350.34" y1="565.5" x2="1304.31" y2="615" stroke="#1a1a1a" stroke-width="0.8"/><line x1="1380.46" y1="565.5" x2="1332.45" y2="615" stroke="#1a1a1a" stroke-width="1.0"/><line x1="1386.06" y1="565.5" x2="1338.05" y2="615" stroke="#1a1a1a" stroke-width="1.0"/><polygon points="1350.34,565.5 1380.46,565.5 1376.78,569.3 1346.81,569.3" fill="#1a1a1a" opacity="0.92"/><line x1="1351.74" y1="615" x2="1335.93" y2="632" stroke="#1a1a1a" stroke-width="0.8"/><line x1="1381.92" y1="615" x2="1365.43" y2="632" stroke="#1a1a1a" stroke-width="1.0"/><line x1="1387.52" y1="615" x2="1371.03" y2="632" stroke="#1a1a1a" stroke-width="1.0"/><polygon points="1351.74,615 1381.92,615 1378.23,618.8 1348.20,618.8" fill="#1a1a1a" opacity="0.92"/><polygon points="1316.12,602.3 1345.97,602.3 1339.47,609 1309.89,609" fill="#1a1a1a"/><rect x="1336.30" y="606" width="5.2" height="8.5" fill="#fff" stroke="#1a1a1a" stroke-width="1.0"/><rect x="1338.40" y="606.5" width="1" height="7.5" fill="#1a1a1a"/><line x1="1403.46" y1="565.5" x2="1357.43" y2="615" stroke="#1a1a1a" stroke-width="0.8"/><line x1="1433.98" y1="565.5" x2="1385.97" y2="615" stroke="#1a1a1a" stroke-width="1.0"/><line x1="1439.58" y1="565.5" x2="1391.57" y2="615" stroke="#1a1a1a" stroke-width="1.0"/><polygon points="1403.46,565.5 1433.98,565.5 1430.30,569.3 1399.93,569.3" fill="#1a1a1a" opacity="0.92"/><line x1="1404.86" y1="615" x2="1389.05" y2="632" stroke="#1a1a1a" stroke-width="0.8"/><line x1="1435.44" y1="615" x2="1418.95" y2="632" stroke="#1a1a1a" stroke-width="1.0"/><line x1="1441.04" y1="615" x2="1424.55" y2="632" stroke="#1a1a1a" stroke-width="1.0"/><polygon points="1404.86,615 1435.44,615 1431.75,618.8 1401.33,618.8" fill="#1a1a1a" opacity="0.92"/><polygon points="1369.24,602.3 1399.49,602.3 1392.99,609 1363.01,609" fill="#1a1a1a"/><rect x="1389.82" y="606" width="5.2" height="8.5" fill="#fff" stroke="#1a1a1a" stroke-width="1.0"/><rect x="1391.92" y="606.5" width="1" height="7.5" fill="#1a1a1a"/><line x1="1456.59" y1="565.5" x2="1410.55" y2="615" stroke="#1a1a1a" stroke-width="0.8"/><line x1="1487.51" y1="565.5" x2="1439.49" y2="615" stroke="#1a1a1a" stroke-width="1.0"/><line x1="1493.11" y1="565.5" x2="1445.09" y2="615" stroke="#1a1a1a" stroke-width="1.0"/><polygon points="1456.59,565.5 1487.51,565.5 1483.82,569.3 1453.05,569.3" fill="#1a1a1a" opacity="0.92"/><line x1="1457.98" y1="615" x2="1442.17" y2="632" stroke="#1a1a1a" stroke-width="0.8"/><line x1="1488.96" y1="615" x2="1472.47" y2="632" stroke="#1a1a1a" stroke-width="1.0"/><line x1="1494.56" y1="615" x2="1478.07" y2="632" stroke="#1a1a1a" stroke-width="1.0"/><polygon points="1457.98,615 1488.96,615 1485.27,618.8 1454.45,618.8" fill="#1a1a1a" opacity="0.92"/><polygon points="1422.36,602.3 1453.01,602.3 1446.51,609 1416.13,609" fill="#1a1a1a"/><rect x="1443.34" y="606" width="5.2" height="8.5" fill="#fff" stroke="#1a1a1a" stroke-width="1.0"/><rect x="1445.44" y="606.5" width="1" height="7.5" fill="#1a1a1a"/><line x1="1509.71" y1="565.5" x2="1463.67" y2="615" stroke="#1a1a1a" stroke-width="0.8"/><line x1="1541.03" y1="565.5" x2="1493.01" y2="615" stroke="#1a1a1a" stroke-width="1.0"/><line x1="1546.63" y1="565.5" x2="1498.61" y2="615" stroke="#1a1a1a" stroke-width="1.0"/><polygon points="1509.71,565.5 1541.03,565.5 1537.34,569.3 1506.17,569.3" fill="#1a1a1a" opacity="0.92"/><line x1="1511.10" y1="615" x2="1495.29" y2="632" stroke="#1a1a1a" stroke-width="0.8"/><line x1="1542.48" y1="615" x2="1525.99" y2="632" stroke="#1a1a1a" stroke-width="1.0"/><line x1="1548.08" y1="615" x2="1531.59" y2="632" stroke="#1a1a1a" stroke-width="1.0"/><polygon points="1511.10,615 1542.48,615 1538.80,618.8 1507.57,618.8" fill="#1a1a1a" opacity="0.92"/><polygon points="1475.48,602.3 1506.53,602.3 1500.03,609 1469.25,609" fill="#1a1a1a"/><rect x="1496.86" y="606" width="5.2" height="8.5" fill="#fff" stroke="#1a1a1a" stroke-width="1.0"/><rect x="1498.96" y="606.5" width="1" height="7.5" fill="#1a1a1a"/><line x1="1562.83" y1="565.5" x2="1516.79" y2="615" stroke="#1a1a1a" stroke-width="0.8"/><line x1="1594.55" y1="565.5" x2="1546.53" y2="615" stroke="#1a1a1a" stroke-width="1.0"/><line x1="1600.15" y1="565.5" x2="1552.13" y2="615" stroke="#1a1a1a" stroke-width="1.0"/><polygon points="1562.83,565.5 1594.55,565.5 1590.86,569.3 1559.29,569.3" fill="#1a1a1a" opacity="0.92"/><line x1="1564.22" y1="615" x2="1548.41" y2="632" stroke="#1a1a1a" stroke-width="0.8"/><line x1="1596.00" y1="615" x2="1579.51" y2="632" stroke="#1a1a1a" stroke-width="1.0"/><line x1="1601.60" y1="615" x2="1585.11" y2="632" stroke="#1a1a1a" stroke-width="1.0"/><polygon points="1564.22,615 1596.00,615 1592.32,618.8 1560.69,618.8" fill="#1a1a1a" opacity="0.92"/><polygon points="1528.60,602.3 1560.05,602.3 1553.55,609 1522.37,609" fill="#1a1a1a"/><rect x="1550.38" y="606" width="5.2" height="8.5" fill="#fff" stroke="#1a1a1a" stroke-width="1.0"/><rect x="1552.48" y="606.5" width="1" height="7.5" fill="#1a1a1a"/><line x1="1615.95" y1="565.5" x2="1569.92" y2="615" stroke="#1a1a1a" stroke-width="0.8"/><line x1="1648.07" y1="565.5" x2="1600.05" y2="615" stroke="#1a1a1a" stroke-width="1.0"/><line x1="1653.67" y1="565.5" x2="1605.65" y2="615" stroke="#1a1a1a" stroke-width="1.0"/><polygon points="1615.95,565.5 1648.07,565.5 1644.38,569.3 1612.42,569.3" fill="#1a1a1a" opacity="0.92"/><line x1="1617.35" y1="615" x2="1601.54" y2="632" stroke="#1a1a1a" stroke-width="0.8"/><line x1="1649.52" y1="615" x2="1633.03" y2="632" stroke="#1a1a1a" stroke-width="1.0"/><line x1="1655.12" y1="615" x2="1638.63" y2="632" stroke="#1a1a1a" stroke-width="1.0"/><polygon points="1617.35,615 1649.52,615 1645.84,618.8 1613.81,618.8" fill="#1a1a1a" opacity="0.92"/><polygon points="1581.73,602.3 1613.57,602.3 1607.07,609 1575.50,609" fill="#1a1a1a"/><rect x="1603.90" y="606" width="5.2" height="8.5" fill="#fff" stroke="#1a1a1a" stroke-width="1.0"/><rect x="1606.00" y="606.5" width="1" height="7.5" fill="#1a1a1a"/><line x1="1669.07" y1="565.5" x2="1623.04" y2="615" stroke="#1a1a1a" stroke-width="0.8"/><line x1="1701.59" y1="565.5" x2="1653.58" y2="615" stroke="#1a1a1a" stroke-width="1.0"/><line x1="1707.19" y1="565.5" x2="1659.18" y2="615" stroke="#1a1a1a" stroke-width="1.0"/><polygon points="1669.07,565.5 1701.59,565.5 1697.91,569.3 1665.54,569.3" fill="#1a1a1a" opacity="0.92"/><line x1="1670.47" y1="615" x2="1654.66" y2="632" stroke="#1a1a1a" stroke-width="0.8"/><line x1="1703.05" y1="615" x2="1686.56" y2="632" stroke="#1a1a1a" stroke-width="1.0"/><line x1="1708.65" y1="615" x2="1692.16" y2="632" stroke="#1a1a1a" stroke-width="1.0"/><polygon points="1670.47,615 1703.05,615 1699.36,618.8 1666.93,618.8" fill="#1a1a1a" opacity="0.92"/><polygon points="1634.85,602.3 1667.10,602.3 1660.60,609 1628.62,609" fill="#1a1a1a"/><rect x="1657.43" y="606" width="5.2" height="8.5" fill="#fff" stroke="#1a1a1a" stroke-width="1.0"/><rect x="1659.53" y="606.5" width="1" height="7.5" fill="#1a1a1a"/></g>
<rect x="1040.70" y="559.2" width="28.50" height="7" fill="#fff" stroke="#1a1a1a" stroke-width="1.2"/><rect x="1042.20" y="561.6" width="22.50" height="4.8" fill="#1a1a1a"/><rect x="1064.50" y="559.8" width="1.2" height="6.5" fill="#1a1a1a"/><rect x="1093.55" y="559.2" width="28.50" height="7" fill="#fff" stroke="#1a1a1a" stroke-width="1.2"/><rect x="1095.05" y="561.6" width="22.50" height="4.8" fill="#1a1a1a"/><rect x="1117.35" y="559.8" width="1.2" height="6.5" fill="#1a1a1a"/><rect x="1146.40" y="559.2" width="28.50" height="7" fill="#fff" stroke="#1a1a1a" stroke-width="1.2"/><rect x="1147.90" y="561.6" width="22.50" height="4.8" fill="#1a1a1a"/><rect x="1170.20" y="559.8" width="1.2" height="6.5" fill="#1a1a1a"/><rect x="1199.25" y="559.2" width="28.50" height="7" fill="#fff" stroke="#1a1a1a" stroke-width="1.2"/><rect x="1200.75" y="561.6" width="22.50" height="4.8" fill="#1a1a1a"/><rect x="1223.05" y="559.8" width="1.2" height="6.5" fill="#1a1a1a"/><rect x="1252.10" y="559.2" width="28.50" height="7" fill="#fff" stroke="#1a1a1a" stroke-width="1.2"/><rect x="1253.60" y="561.6" width="22.50" height="4.8" fill="#1a1a1a"/><rect x="1275.90" y="559.8" width="1.2" height="6.5" fill="#1a1a1a"/><rect x="1304.95" y="559.2" width="28.50" height="7" fill="#fff" stroke="#1a1a1a" stroke-width="1.2"/><rect x="1306.45" y="561.6" width="22.50" height="4.8" fill="#1a1a1a"/><rect x="1328.75" y="559.8" width="1.2" height="6.5" fill="#1a1a1a"/><rect x="1357.80" y="559.2" width="28.50" height="7" fill="#fff" stroke="#1a1a1a" stroke-width="1.2"/><rect x="1359.30" y="561.6" width="22.50" height="4.8" fill="#1a1a1a"/><rect x="1381.60" y="559.8" width="1.2" height="6.5" fill="#1a1a1a"/><rect x="1410.65" y="559.2" width="28.50" height="7" fill="#fff" stroke="#1a1a1a" stroke-width="1.2"/><rect x="1412.15" y="561.6" width="22.50" height="4.8" fill="#1a1a1a"/><rect x="1434.45" y="559.8" width="1.2" height="6.5" fill="#1a1a1a"/><rect x="1463.50" y="559.2" width="28.50" height="7" fill="#fff" stroke="#1a1a1a" stroke-width="1.2"/><rect x="1465.00" y="561.6" width="22.50" height="4.8" fill="#1a1a1a"/><rect x="1487.30" y="559.8" width="1.2" height="6.5" fill="#1a1a1a"/><rect x="1516.35" y="559.2" width="28.50" height="7" fill="#fff" stroke="#1a1a1a" stroke-width="1.2"/><rect x="1517.85" y="561.6" width="22.50" height="4.8" fill="#1a1a1a"/><rect x="1540.15" y="559.8" width="1.2" height="6.5" fill="#1a1a1a"/><rect x="1569.20" y="559.2" width="28.50" height="7" fill="#fff" stroke="#1a1a1a" stroke-width="1.2"/><rect x="1570.70" y="561.6" width="22.50" height="4.8" fill="#1a1a1a"/><rect x="1593.00" y="559.8" width="1.2" height="6.5" fill="#1a1a1a"/><rect x="1622.05" y="559.2" width="26.75" height="7" fill="#fff" stroke="#1a1a1a" stroke-width="1.2"/><rect x="1623.55" y="561.6" width="22.50" height="4.8" fill="#1a1a1a"/>
<line x1="985.00" y1="614.00" x2="1599.60" y2="614.00" stroke="#1c1c1c" stroke-width="2" />
<line x1="1028.80" y1="565.00" x2="1648.70" y2="565.00" stroke="#1c1c1c" stroke-width="2" />
<line x1="1028.40" y1="567.70" x2="963.80" y2="631.80" stroke="#1c1c1c" stroke-width="1.0" stroke-dasharray="3,1.5"/>
<line x1="1033.00" y1="567.70" x2="968.50" y2="631.80" stroke="#1c1c1c" stroke-width="1.0" stroke-dasharray="3,1.5"/>
<line x1="991.50" y1="593.60" x2="991.50" y2="730.40" stroke="#1c1c1c" stroke-width="1" />
<polygon points="991.30,632.50 997.10,612.50 985.50,612.50" fill="#111"/>
<polygon points="991.30,690.20 985.00,709.10 997.60,709.10" fill="#111"/>
<line x1="921.00" y1="632.00" x2="1576.80" y2="632.00" stroke="#1c1c1c" stroke-width="2" />
</svg></body></html>
